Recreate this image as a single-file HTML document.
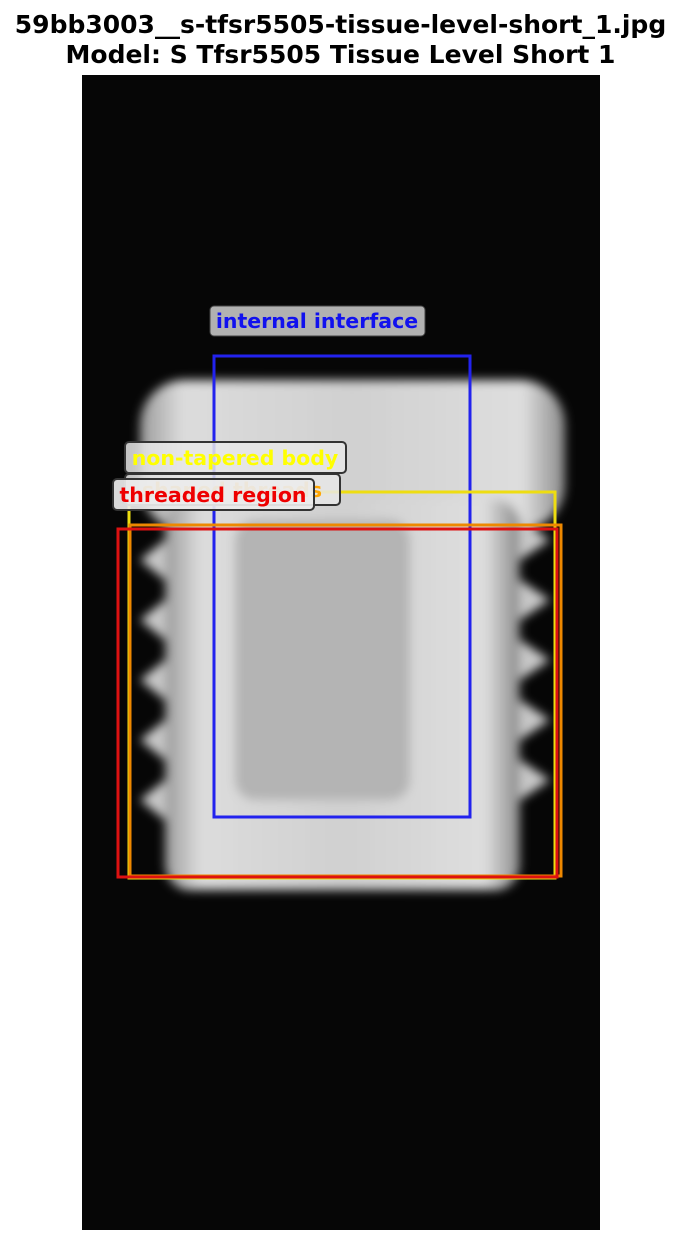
<!DOCTYPE html>
<html><head><meta charset="utf-8"><style>
body{margin:0;background:#fff;width:681px;height:1245px;overflow:hidden;font-family:"DejaVu Sans","Liberation Sans",sans-serif}
.t{position:absolute;left:0;width:681px;text-align:center;font-weight:bold;font-size:25px;line-height:30px;color:#000}
</style></head><body>
<div class="t" style="top:10px">59bb3003__s-tfsr5505-tissue-level-short_1.jpg</div>
<div class="t" style="top:40px">Model: S Tfsr5505 Tissue Level Short 1</div>
<svg width="681" height="1245" style="position:absolute;left:0;top:0">
<defs>
<linearGradient id="g" x1="0" x2="1" y1="0" y2="0">
<stop offset="0" stop-color="#9a9a9a"/><stop offset="0.1" stop-color="#dcdcdc"/><stop offset="0.5" stop-color="#d0d0d0"/><stop offset="0.9" stop-color="#dedede"/><stop offset="1" stop-color="#8a8a8a"/></linearGradient>
<filter id="b"><feGaussianBlur stdDeviation="5"/></filter>
</defs>
<rect x="82" y="75" width="518" height="1155" fill="#060606"/>
<g filter="url(#b)">
<rect x="140" y="380" width="425" height="150" rx="45" fill="url(#g)"/>
<rect x="165" y="500" width="355" height="390" rx="25" fill="url(#g)"/>
<g fill="#c8c8c8">
<polygon points="165,540 140,560 165,580"/><polygon points="165,600 140,620 165,640"/><polygon points="165,660 140,680 165,700"/><polygon points="165,720 140,740 165,760"/><polygon points="165,780 140,800 165,820"/>
<polygon points="520,520 550,540 520,560"/><polygon points="520,580 550,600 520,620"/><polygon points="520,640 550,660 520,680"/><polygon points="520,700 550,720 520,740"/><polygon points="520,760 550,780 520,800"/>
</g>
<rect x="235" y="520" width="175" height="280" rx="20" fill="#b4b4b4"/>
</g>
<g fill="none" stroke-width="3">
<rect x="214" y="356" width="256" height="461" stroke="#2222ee"/>
<rect x="129" y="492" width="426" height="386" stroke="#eedd11"/>
<rect x="130" y="525" width="431" height="351" stroke="#ee8800"/>
<rect x="118" y="529" width="439" height="348" stroke="#dd1111"/>
</g>
<g font-weight="bold" font-size="20.5" font-family="DejaVu Sans, Liberation Sans, sans-serif">
<rect x="210" y="306" width="215" height="30" rx="4" fill="#d0d0d0" fill-opacity="0.85" stroke="#444"/>
<text x="317" y="328" text-anchor="middle" fill="#1111ee">internal interface</text>
<rect x="125" y="474" width="215" height="31" rx="4" fill="#e8e8e8" fill-opacity="0.85" stroke="#333" stroke-width="2"/>
<text x="232" y="497" text-anchor="middle" fill="#ffa500">shaped threads</text>
<rect x="125" y="442" width="221" height="31" rx="4" fill="#e8e8e8" fill-opacity="0.85" stroke="#333" stroke-width="2"/>
<text x="235" y="465" text-anchor="middle" fill="#ffff00">non-tapered body</text>
<rect x="113" y="479" width="201" height="31" rx="4" fill="#ececec" fill-opacity="0.92" stroke="#333" stroke-width="2"/>
<text x="213" y="502" text-anchor="middle" fill="#ee0000">threaded region</text>
</g>
</svg>
</body></html>
